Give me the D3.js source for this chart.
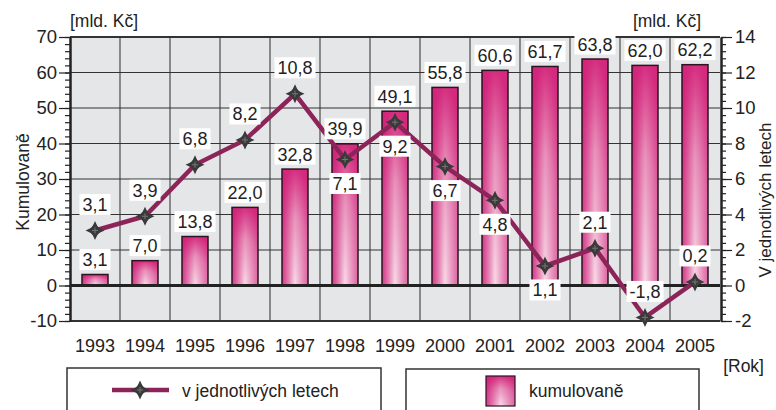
<!DOCTYPE html>
<html><head><meta charset="utf-8">
<script src="https://cdn.jsdelivr.net/npm/d3@7"></script>
<style>
body{margin:0;background:#fff;}
svg{display:block;}
text{font-family:"Liberation Sans Narrow","Arial Narrow","Liberation Sans",Arial,sans-serif;fill:#222;}
</style></head>
<body>
<svg id="c" width="776" height="410"></svg>
<script>
const years = ["1993","1994","1995","1996","1997","1998","1999","2000","2001","2002","2003","2004","2005"];
const cumulative = [3.1,7.0,13.8,22.0,32.8,39.9,49.1,55.8,60.6,61.7,63.8,62.0,62.2];
const annual = [3.1,3.9,6.8,8.2,10.8,7.1,9.2,6.7,4.8,1.1,2.1,-1.8,0.2];
const annualLabelBelow = [false,false,false,false,false,true,true,true,true,true,false,false,false];
const leftTicks = [-10,0,10,20,30,40,50,60,70];
const rightTicks = [-2,0,2,4,6,8,10,12,14];
const unitLabel = "[mld. Kč]";
const xTitle = "[Rok]";
const leftTitle = "Kumulovaně";
const rightTitle = "V jednotlivých letech";
const legendLine = "v jednotlivých letech";
const legendBar = "kumulovaně";

const fmt = v => d3.format(".1f")(v).replace(".", ",").replace("−","-");
const fmtInt = v => d3.format("d")(v).replace("−","-");

const svg = d3.select("#c");
const L = 70, R = 720, T = 37, B = 321;
const FS = 17.5;
const x = d3.scaleBand().domain(years).range([L, R]).padding(0);
const yL = d3.scaleLinear().domain([-10, 70]).range([B, T]);
const yR = d3.scaleLinear().domain([-2, 14]).range([B, T]);

const defs = svg.append("defs");
const g1 = defs.append("radialGradient").attr("id","barGrad")
  .attr("cx","0.5").attr("cy","1").attr("r","1").attr("fx","0.5").attr("fy","1");
g1.append("stop").attr("offset","0").attr("stop-color","#f8dbe8");
g1.append("stop").attr("offset","0.6").attr("stop-color","#e892bb");
g1.append("stop").attr("offset","1").attr("stop-color","#d52f80");
const g2 = defs.append("linearGradient").attr("id","barGradH").attr("x1","0").attr("x2","1").attr("y1","0").attr("y2","0");
g2.append("stop").attr("offset","0").attr("stop-color","#d0207a").attr("stop-opacity","0.8");
g2.append("stop").attr("offset","0.5").attr("stop-color","#d0207a").attr("stop-opacity","0");
g2.append("stop").attr("offset","1").attr("stop-color","#d0207a").attr("stop-opacity","0.45");

// plot background
svg.append("rect").attr("x",L).attr("y",T).attr("width",R-L).attr("height",B-T).attr("fill","#e5e6e8");

// vertical grid (category boundaries)
svg.append("g").selectAll("line").data(years.slice(1)).join("line")
  .attr("x1",d=>x(d)).attr("x2",d=>x(d)).attr("y1",T).attr("y2",B)
  .attr("stroke","#4a4a4a").attr("stroke-width",1.2);
// horizontal grid
svg.append("g").selectAll("line").data(leftTicks).join("line")
  .attr("x1",L).attr("x2",R).attr("y1",d=>yL(d)).attr("y2",d=>yL(d))
  .attr("stroke","#333").attr("stroke-width",d=>(d===-10||d===70)?2:1.2);

// bars
const bw = x.bandwidth()*0.52;
const bars = svg.append("g");
bars.selectAll("rect.b").data(cumulative).join("rect").attr("class","b")
  .attr("x",(d,i)=>x(years[i])+x.bandwidth()/2-bw/2).attr("width",bw)
  .attr("y",d=>yL(d)).attr("height",d=>yL(0)-yL(d))
  .attr("fill","url(#barGrad)");
bars.selectAll("rect.h").data(cumulative).join("rect").attr("class","h")
  .attr("x",(d,i)=>x(years[i])+x.bandwidth()/2-bw/2).attr("width",bw)
  .attr("y",d=>yL(d)).attr("height",d=>yL(0)-yL(d))
  .attr("fill","url(#barGradH)").attr("stroke","#2a1520").attr("stroke-width",1.5);

// zero line
svg.append("line").attr("x1",L).attr("x2",R).attr("y1",yL(0)).attr("y2",yL(0))
  .attr("stroke","#222").attr("stroke-width",3);

// axes
function styleAxis(g){ g.select(".domain").attr("stroke","#222").attr("stroke-width",2);
  g.selectAll(".tick line").attr("stroke","#222").attr("stroke-width",1.2);
  g.selectAll("text").attr("font-size",FS+1).attr("fill","#222").style("font-family",null); }
const minorL = d3.range(-10,70.01,2);
const minorR = d3.range(-2,14.01,0.4);
svg.append("g").attr("transform",`translate(${L},0)`)
  .call(d3.axisLeft(yL).tickValues(minorL).tickSize(5).tickFormat("").tickSizeOuter(0)).call(styleAxis);
svg.append("g").attr("transform",`translate(${L},0)`)
  .call(d3.axisLeft(yL).tickValues(leftTicks).tickSize(11).tickPadding(2).tickSizeOuter(0).tickFormat(fmtInt)).call(styleAxis);
svg.append("g").attr("transform",`translate(${R+1},0)`)
  .call(d3.axisRight(yR).tickValues(minorR).tickSize(5).tickFormat("").tickSizeOuter(0)).call(styleAxis);
svg.append("g").attr("transform",`translate(${R+1},0)`)
  .call(d3.axisRight(yR).tickValues(rightTicks).tickSize(11).tickPadding(3).tickSizeOuter(0).tickFormat(fmtInt)).call(styleAxis);

// year labels
svg.append("g").selectAll("text").data(years).join("text")
  .attr("x",d=>x(d)+x.bandwidth()/2).attr("y",352).attr("text-anchor","middle")
  .attr("font-size",FS+0.5).text(d=>d);

// line
const lineGen = d3.line().x((d,i)=>x(years[i])+x.bandwidth()/2).y(d=>yR(d));
svg.append("path").datum(annual).attr("d",lineGen).attr("fill","none")
  .attr("stroke","#8c2459").attr("stroke-width",4.5).attr("stroke-linejoin","miter");

function star(r){ const a=r*0.32; return `M0,${-r}L${a},${-a}L${r},0L${a},${a}L0,${r}L${-a},${a}L${-r},0L${-a},${-a}Z`; }
function marker(g){
  g.append("path").attr("d",star(9.5)).attr("fill","#3a3a3a");
  g.append("rect").attr("x",-4.8).attr("y",-4.8).attr("width",9.6).attr("height",9.6).attr("transform","rotate(45)").attr("fill","#3a3a3a");
  g.append("path").attr("d","M-3,0H3M0,-3V3").attr("stroke","#777").attr("stroke-width",1);
}
svg.append("g").selectAll("g").data(annual).join("g")
  .attr("transform",(d,i)=>`translate(${x(years[i])+x.bandwidth()/2},${yR(d)})`)
  .each(function(){ marker(d3.select(this)); });

// value labels
function label(cx, cy, txt){
  const g = svg.append("g");
  const t = g.append("text").attr("x",cx).attr("y",cy+6.5).attr("text-anchor","middle").attr("font-size",FS+0.5).text(txt);
  const bb = t.node().getBBox();
  g.insert("rect","text").attr("x",bb.x-3).attr("y",cy-10.5).attr("width",bb.width+6).attr("height",21).attr("fill","#fff");
}
cumulative.forEach((d,i)=>label(x(years[i])+x.bandwidth()/2, yL(d)-15, fmt(d)));
annual.forEach((d,i)=>label(x(years[i])+x.bandwidth()/2, yR(d)+(annualLabelBelow[i]?24:-26), fmt(d)));

// unit titles
svg.append("text").attr("x",70).attr("y",27).attr("font-size",FS).text(unitLabel);
svg.append("text").attr("x",701).attr("y",27).attr("text-anchor","end").attr("font-size",FS).text(unitLabel);
svg.append("text").attr("x",764).attr("y",372).attr("text-anchor","end").attr("font-size",FS).text(xTitle);
svg.append("text").attr("transform","translate(29,182) rotate(-90)").attr("text-anchor","middle").attr("font-size",FS).text(leftTitle);
svg.append("text").attr("transform","translate(771,200) rotate(-90)").attr("text-anchor","middle").attr("font-size",FS-0.5).text(rightTitle);

// legend
svg.append("rect").attr("x",67).attr("y",368).attr("width",314).attr("height",60).attr("fill","#fff").attr("stroke","#333").attr("stroke-width",1.5);
svg.append("line").attr("x1",112).attr("x2",169).attr("y1",390).attr("y2",390).attr("stroke","#8c2459").attr("stroke-width",4.5);
const lm = svg.append("g").attr("transform","translate(140,390)"); marker(lm);
svg.append("text").attr("x",182).attr("y",397).attr("font-size",FS).text(legendLine);
svg.append("rect").attr("x",406).attr("y",369).attr("width",293).attr("height",60).attr("fill","#fff").attr("stroke","#333").attr("stroke-width",1.5);
svg.append("rect").attr("x",486).attr("y",376).attr("width",29).attr("height",30).attr("fill","url(#barGrad)");
svg.append("rect").attr("x",486).attr("y",376).attr("width",29).attr("height",30).attr("fill","url(#barGradH)").attr("stroke","#2a1520").attr("stroke-width",1.2);
svg.append("text").attr("x",529).attr("y",397).attr("font-size",FS).text(legendBar);
</script>
</body></html>
